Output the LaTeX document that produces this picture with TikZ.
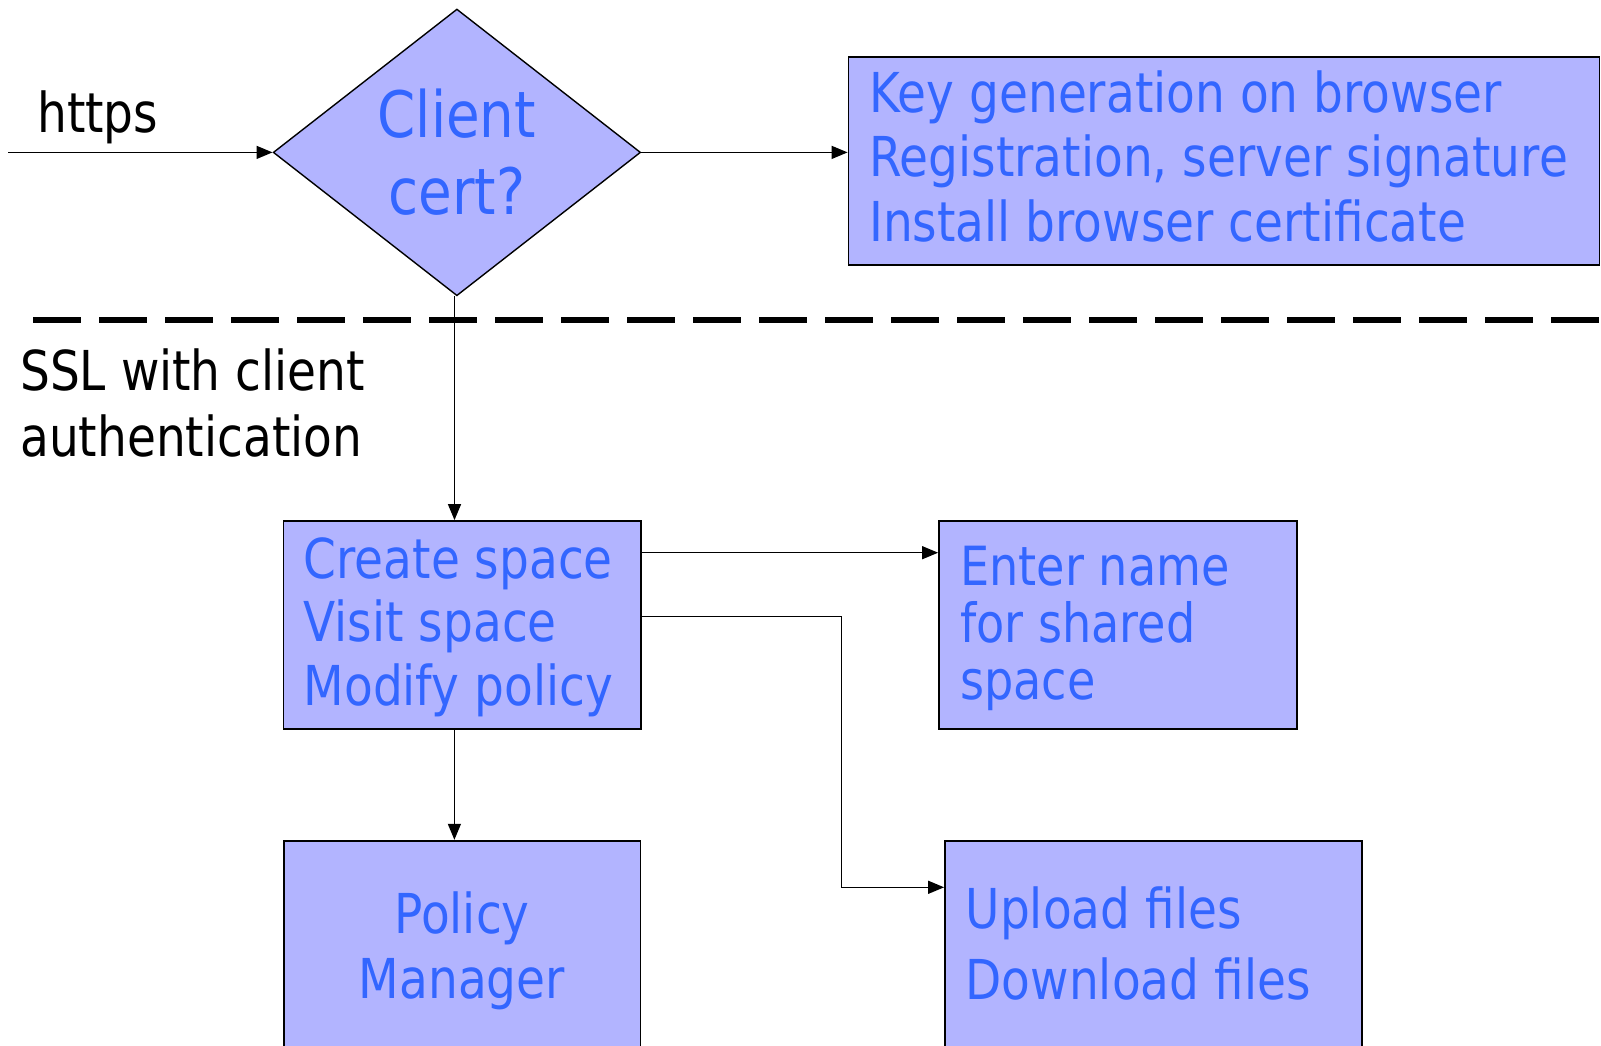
\documentclass[tikz,border=0pt]{standalone}
\usepackage{fontspec}
\setmainfont{DejaVu Sans}[FakeStretch=0.855]
\usetikzlibrary{shapes.geometric,arrows.meta}
\definecolor{boxfill}{RGB}{178,180,255}
\definecolor{boxtext}{RGB}{51,102,255}
\begin{document}
\begin{tikzpicture}[x=1pt,y=-1pt,
  box/.style={draw=black, line width=1.8pt, fill=boxfill, rectangle, inner sep=0pt},
  txt/.style={inner sep=0pt, align=left, text=boxtext, anchor=base west},
  blk/.style={inner sep=0pt, align=left, text=black, anchor=base west},
  arr/.style={line width=1.4pt, -{Triangle[length=16pt,width=13pt]}}]
\useasboundingbox[fill=white] (0,0) rectangle (1601,1046);

% diamond
\node[diamond, draw=black, line width=1.4pt, fill=boxfill, minimum width=367.4pt,
      minimum height=286.7pt, inner sep=0pt, text=boxtext, align=center,
      font=\fontsize{64}{76.7}\selectfont] (d) at (456.9,152.4) {Client\\cert?};

% boxes
\node[box, minimum width=751pt, minimum height=208pt] (top) at (1224,160.7) {};
\node[box, minimum width=357.4pt, minimum height=208pt] (create) at (462.1,625) {};
\node[box, minimum width=358pt, minimum height=208pt] (enter) at (1118,625) {};
\node[box, minimum width=356.5pt, minimum height=219.3pt] (policy) at (462.2,950.35) {};
\node[box, minimum width=416.6pt, minimum height=219.3pt] (upload) at (1153.3,950.35) {};

% texts (base anchor = baseline of the last line)
\node[txt, font=\fontsize{55}{64.2}\selectfont] (toptext) at (869,241)
  {Key generation on browser\\Registration, server signature\\Install browser certificate};
\node[txt, font=\fontsize{55}{63.3}\selectfont] (createtext) at (303.5,705)
  {Create space\\Visit space\\Modify policy};
\node[txt, font=\fontsize{54}{57}\selectfont] (entertext) at (960,699)
  {Enter name\\for shared\\space};
\node[txt, align=center, anchor=base, font=\fontsize{55}{65}\selectfont] (policytext) at (462,998.3)
  {Policy\\Manager};
\node[txt, font=\fontsize{55}{70.7}\selectfont] (uploadtext) at (965.5,999)
  {Upload files\\Download files};
\node[blk, font=\fontsize{55}{66}\selectfont] (https) at (37,132.3) {https};
\node[blk, font=\fontsize{55}{66}\selectfont] (ssl) at (20,456.7) {SSL with client\\authentication};

% separator
\draw[line width=6pt, dash pattern=on 48pt off 18pt] (33,320.3) -- (1601,320.3);

% connectors
\coordinate (in) at (8,152.4);
\draw[arr] (in) -- (d.west);
\draw[arr] (d.east) -- (d.east -| top.west);
\draw[arr] ([xshift=-2.4pt]d.south) -- ([xshift=-2.4pt]d.south |- create.north);
\draw[arr] ([yshift=72.3pt]create.east) -- ([yshift=72.3pt]create.east -| enter.west);
\coordinate (bend) at (841.5,887.3);
\draw[arr] ([yshift=8.3pt]create.east) -| (bend) -- (bend -| upload.west);
\draw[arr] ([xshift=-7.7pt]create.south) -- ([xshift=-7.7pt]create.south |- policy.north);
\end{tikzpicture}
\end{document}
